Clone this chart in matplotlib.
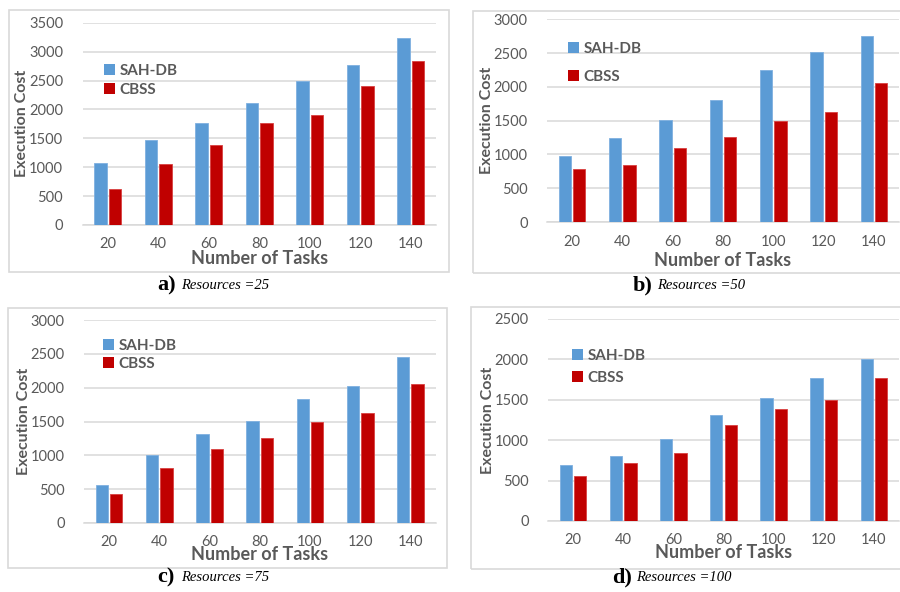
import numpy as np
import matplotlib
matplotlib.use("Agg")
import matplotlib.pyplot as plt
from matplotlib.patches import Rectangle, Patch

plt.rcParams['font.family'] = ['Lato', 'DejaVu Sans']

tasks = ['20', '40', '60', '80', '100', '120', '140']
series_names = ['SAH-DB', 'CBSS']

sah_25 = [1070, 1470, 1770, 2110, 2490, 2770, 3230]
cbss_25 = [620, 1050, 1380, 1770, 1910, 2400, 2840]
sah_50 = [980, 1250, 1510, 1810, 2250, 2510, 2750]
cbss_50 = [780, 840, 1100, 1260, 1490, 1630, 2050]
sah_75 = [560, 1000, 1310, 1510, 1830, 2030, 2450]
cbss_75 = [430, 820, 1100, 1260, 1490, 1630, 2050]
sah_100 = [690, 810, 1010, 1310, 1520, 1770, 2000]
cbss_100 = [560, 720, 840, 1190, 1390, 1500, 1770]

captions = [('a)', 'Resources =25'), ('b)', 'Resources =50'),
            ('c)', 'Resources =75'), ('d)', 'Resources =100')]

BLUE = '#5B9BD5'
RED = '#C00000'
GREY_TXT = '#595959'
GRID = '#D9D9D9'

W, H = 900, 592
fig = plt.figure(figsize=(W / 100, H / 100), dpi=100)


def fx(x):
    return x / W


def fy(y):
    return 1 - y / H


# panel layout in pixels: frame box, plot area, legend anchor, caption spot
panels = [
    dict(sah=sah_25, cbss=cbss_25, ymax=3500, box=(9, 10, 449, 272),
         plot=(82.5, 436, 225, 22.7), xl=33, leg=(96, 56), lsp=0.35, cap=(157, 290)),
    dict(sah=sah_50, cbss=cbss_50, ymax=3000, box=(473, 11, 905, 273),
         plot=(547, 899, 222, 19.3), xl=38, leg=(560, 34), lsp=0.95, cap=(633, 290)),
    dict(sah=sah_75, cbss=cbss_75, ymax=3000, box=(8, 308, 447, 568),
         plot=(84, 435.5, 523, 320), xl=31, leg=(95, 331), lsp=0.3, cap=(157, 582)),
    dict(sah=sah_100, cbss=cbss_100, ymax=2500, box=(471, 307, 905, 569),
         plot=(548, 899, 521, 319), xl=32, leg=(564, 341), lsp=0.55, cap=(612, 582)),
]

x = np.arange(len(tasks))
bw = 0.245
off = 0.143

for p, (tag, res) in zip(panels, captions):
    bx0, by0, bx1, by1 = p['box']
    fig.patches.append(Rectangle((fx(bx0), fy(by1)), fx(bx1 - bx0), (by1 - by0) / H,
                                 transform=fig.transFigure, fill=False,
                                 edgecolor=GRID, linewidth=1.2, zorder=0))

    left, right, y0, ytop = p['plot']
    ax = fig.add_axes([fx(left), fy(y0), fx(right - left), (y0 - ytop) / H])
    ax.bar(x - off, p['sah'], bw, color=BLUE, edgecolor='#7FB0E0', linewidth=0.6, zorder=3)
    ax.bar(x + off, p['cbss'], bw, color=RED, edgecolor='#D84040', linewidth=0.6, zorder=3)
    ax.set_xlim(-0.5, len(tasks) - 0.5)
    ax.set_ylim(0, p['ymax'])
    ax.set_yticks(np.arange(0, p['ymax'] + 1, 500))
    ax.set_xticks(x)
    ax.set_xticklabels(tasks)
    ax.yaxis.grid(True, color=GRID, linewidth=1.1, zorder=0)
    ax.set_axisbelow(True)
    for s in ['top', 'right', 'left']:
        ax.spines[s].set_visible(False)
    ax.spines['bottom'].set_color(GRID)
    ax.spines['bottom'].set_linewidth(1.1)
    ax.tick_params(length=0, labelsize=10.5, labelcolor=GREY_TXT)
    ax.tick_params(axis='y', pad=14)
    ax.tick_params(axis='x', pad=9)

    ax.set_xlabel('Number of Tasks', fontsize=13, fontweight='bold', color=GREY_TXT)
    ax.xaxis.set_label_coords(0.5, -p['xl'] / (y0 - ytop))
    ax.xaxis.label.set_va('center')
    ax.set_ylabel('Execution Cost', fontsize=11.5, fontweight='bold', color=GREY_TXT)
    ax.yaxis.set_label_coords(-60 / (right - left), 0.5)
    ax.yaxis.label.set_va('center')

    handles = [Patch(facecolor=BLUE), Patch(facecolor=RED)]
    lx, ly = p['leg']
    ax.legend(handles, series_names, loc='upper left',
              bbox_to_anchor=(fx(lx), fy(ly)), bbox_transform=fig.transFigure,
              frameon=False, handlelength=0.75, handleheight=0.75,
              handletextpad=0.3, labelspacing=p['lsp'], borderpad=0,
              prop=dict(size=11, weight='bold'), labelcolor=GREY_TXT)

    cx, cy = p['cap']
    fig.text(fx(cx), fy(cy), tag, family='Liberation Serif', fontweight='bold',
             fontsize=16, va='baseline', ha='left')
    fig.text(fx(cx + 24), fy(cy - 1), res, family='Liberation Serif', style='italic',
             fontsize=10.5, va='baseline', ha='left')

fig.savefig('out.png', dpi=100, facecolor='white')
